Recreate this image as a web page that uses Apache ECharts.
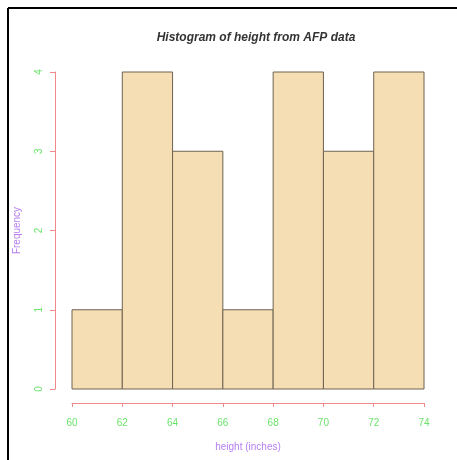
<!DOCTYPE html>
<html>
<head>
<meta charset="utf-8">
<script src="https://cdn.jsdelivr.net/npm/echarts@6/dist/echarts.min.js"></script>
<style>
  html, body { margin: 0; padding: 0; background: #ffffff; }
  #chart { width: 457px; height: 460px; }
</style>
</head>
<body>
<div id="chart"></div>
<script>
// Histogram bins (inches) and counts
const binStarts = [60, 62, 64, 66, 68, 70, 72];
const binWidth = 2;
const counts = [1, 4, 3, 1, 4, 3, 4];
const xTicks = [60, 62, 64, 66, 68, 70, 72, 74];
const yTicks = [0, 1, 2, 3, 4];

const rows = binStarts.map((s, i) => [s, s + binWidth, counts[i]]);

const axisRed = '#f08a8a';
const tickGreen = '#6be36b';
const labPurple = '#b77ef0';
const font = 'Liberation Sans, Arial, sans-serif';

const chart = echarts.init(document.getElementById('chart'));
chart.setOption({
  animation: false,
  backgroundColor: '#ffffff',
  title: {
    text: 'Histogram of height from AFP data',
    left: 251,
    textAlign: 'center',
    top: 27,
    textStyle: { fontFamily: font, fontSize: 12, fontWeight: 'bold', fontStyle: 'italic', color: '#333333' }
  },
  graphic: [
    { type: 'line', shape: { x1: 8, y1: 8, x2: 457, y2: 8 }, style: { stroke: '#000', lineWidth: 2 } },
    { type: 'line', shape: { x1: 8, y1: 8, x2: 8, y2: 460 }, style: { stroke: '#000', lineWidth: 2 } }
  ],
  grid: { left: 72, right: 33, top: 72, bottom: 71 },
  xAxis: {
    type: 'value',
    min: xTicks[0],
    max: xTicks[xTicks.length - 1],
    interval: 2,
    offset: 14,
    name: 'height (inches)',
    nameLocation: 'middle',
    nameGap: 39,
    nameTextStyle: { color: labPurple, fontFamily: font, fontSize: 10 },
    axisLine: { onZero: false, lineStyle: { color: axisRed, width: 1 } },
    axisTick: { length: 4, lineStyle: { color: axisRed } },
    axisLabel: { color: tickGreen, fontFamily: font, fontSize: 10, margin: 15, showMinLabel: true, showMaxLabel: true },
    splitLine: { show: false }
  },
  yAxis: {
    type: 'value',
    min: yTicks[0],
    max: yTicks[yTicks.length - 1],
    interval: 1,
    offset: 17,
    name: 'Frequency',
    nameLocation: 'middle',
    nameGap: 33,
    nameRotate: 90,
    nameTextStyle: { color: labPurple, fontFamily: font, fontSize: 10 },
    axisLine: { show: true, onZero: false, lineStyle: { color: axisRed, width: 1 } },
    axisTick: { show: true, length: 5, lineStyle: { color: axisRed } },
    axisLabel: { color: tickGreen, fontFamily: font, fontSize: 10, rotate: 90, margin: 11 },
    splitLine: { show: false }
  },
  series: [{
    type: 'custom',
    data: rows,
    encode: { x: [0, 1], y: 2 },
    renderItem: function (params, api) {
      const p0 = api.coord([api.value(0), 0]);
      const p1 = api.coord([api.value(1), api.value(2)]);
      return {
        type: 'rect',
        shape: { x: p0[0], y: p1[1], width: p1[0] - p0[0], height: p0[1] - p1[1] },
        style: { fill: '#f5deb3', stroke: '#6e6252', lineWidth: 1 }
      };
    }
  }]
});
</script>
</body>
</html>
